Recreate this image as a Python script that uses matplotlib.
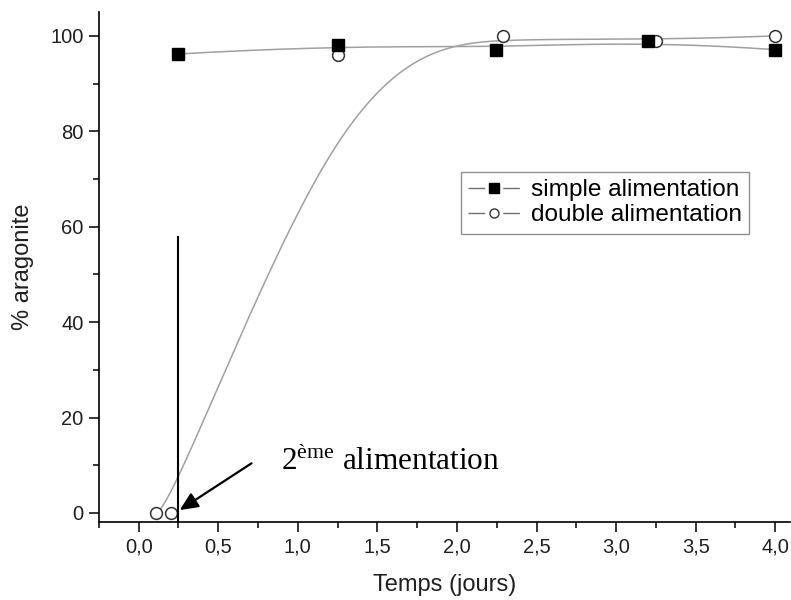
import numpy as np
import matplotlib
matplotlib.use("Agg")
import matplotlib.pyplot as plt
from matplotlib.ticker import MultipleLocator, FuncFormatter
from matplotlib.lines import Line2D

# data
t_simple = [0.25, 1.25, 2.245, 3.2, 4.0]
arag_simple = [96.2, 98.1, 97.1, 99.0, 97.1]
t_double = [0.107, 0.205, 1.25, 2.29, 3.25, 4.0]
arag_double = [0.0, 0.0, 96.0, 100.0, 99.0, 100.0]

t_feed2 = 0.25          # second feeding time
feed_line_top = 57.8

plt.rcParams['font.family'] = ['Liberation Sans', 'DejaVu Sans']
plt.rcParams['mathtext.fontset'] = 'custom'
plt.rcParams['mathtext.rm'] = 'Liberation Serif'
plt.rcParams['lines.scale_dashes'] = False


def bspline(xs, ys, k=3, n=400):
    # clamped uniform cubic B-spline, data points used as control points
    P = np.column_stack([xs, ys])
    m = len(P)
    knots = np.concatenate([np.zeros(k), np.linspace(0, 1, m - k + 1), np.ones(k)])
    t = np.linspace(0, 1, n)
    N = np.zeros((n, len(knots) - 1))
    for i in range(len(knots) - 1):
        N[:, i] = (knots[i] <= t) & (t < knots[i + 1])
    N[t == 1, m - 1] = 1
    for d in range(1, k + 1):
        Nn = np.zeros((n, len(knots) - 1 - d))
        for i in range(len(knots) - 1 - d):
            a = knots[i + d] - knots[i]
            b = knots[i + d + 1] - knots[i + 1]
            left = (t - knots[i]) / a * N[:, i] if a > 0 else 0
            right = (knots[i + d + 1] - t) / b * N[:, i + 1] if b > 0 else 0
            Nn[:, i] = left + right
        N = Nn
    C = N @ P
    return C[:, 0], C[:, 1]


fig = plt.figure(figsize=(7.91, 6.0), dpi=100)
ax = fig.add_axes([0.125, 0.13, 0.874, 0.85])

line_grey = '#a0a0a0'
xs, ys = bspline(t_simple, arag_simple)
ax.plot(xs, ys, color=line_grey, lw=1.1, zorder=2)
xd, yd = bspline(t_double, arag_double)
ax.plot(xd, yd, color=line_grey, lw=1.1, zorder=2)

ax.plot(t_simple, arag_simple, ls='none', marker='s', ms=8, mfc='black',
        mec='black', zorder=4)
ax.plot(t_double, arag_double, ls='none', marker='o', ms=8.5, mfc='white',
        mec='#333333', mew=1.1, zorder=3)

# legend proxies: "—■—" style, line broken around the marker
seg = Line2D([], [], color='#707070', lw=1.0, linestyle=(0, (12, 13)))
m1 = Line2D([], [], ls='none', marker='s', ms=6.5, mfc='black', mec='black')
m2 = Line2D([], [], ls='none', marker='o', ms=6.5, mfc='white', mec='#333333')
leg = ax.legend([(seg, m1), (seg, m2)], ['simple alimentation', 'double alimentation'],
                loc='upper left', bbox_to_anchor=(461 / 791, 1 - 172 / 600),
                bbox_transform=fig.transFigure, fontsize=17.6, frameon=True,
                fancybox=False, framealpha=1, edgecolor='#909090',
                handlelength=2.11, handletextpad=0.45, borderpad=0.3,
                labelspacing=0.12, borderaxespad=0)
leg.get_frame().set_linewidth(1.0)

# second feeding marker
ax.plot([t_feed2, t_feed2], [-2, feed_line_top], color='black', lw=1.5, zorder=5)
ax.annotate('', xy=(0.258, 0.6), xytext=(0.709, 10.4),
            arrowprops=dict(arrowstyle='-|>,head_length=1.1,head_width=0.5',
                            color='black', lw=1.6, shrinkA=0, shrinkB=0))
ax.text(0.893, 9.0, r'2$^{\mathrm{ème}}$ alimentation', fontsize=22.5,
        family='Liberation Serif', va='baseline', ha='left')

ax.set_xlim(-0.25, 4.094)
ax.set_ylim(-1.9, 105)
ax.spines['top'].set_visible(False)
ax.spines['right'].set_visible(False)
for s in ('left', 'bottom'):
    ax.spines[s].set_linewidth(1.2)

ax.xaxis.set_major_locator(MultipleLocator(0.5))
ax.xaxis.set_minor_locator(MultipleLocator(0.25))
ax.yaxis.set_major_locator(MultipleLocator(20))
ax.yaxis.set_minor_locator(MultipleLocator(10))
ax.xaxis.set_major_formatter(FuncFormatter(lambda v, p: f'{v:.1f}'.replace('.', ',')))
ax.tick_params(which='major', length=7.5, width=1.1, labelsize=14.5, direction='out',
               labelcolor='#202020')
ax.tick_params(which='minor', length=4, width=1.1, direction='out')

ax.set_xlabel('Temps (jours)', fontsize=17, labelpad=13, color='#202020')
ax.set_ylabel('% aragonite', fontsize=17, labelpad=12, color='#202020')

fig.savefig('out.png', dpi=100)
